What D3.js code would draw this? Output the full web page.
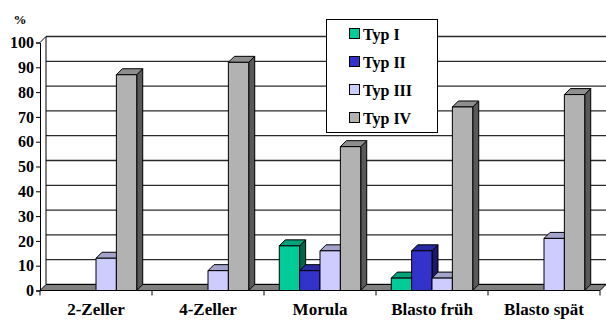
<!DOCTYPE html>
<html>
<head>
<meta charset="utf-8">
<script src="https://cdn.jsdelivr.net/npm/d3@7"></script>
<style>
  html, body { margin: 0; padding: 0; background: #fff; }
  svg text { font-family: "Liberation Serif", "DejaVu Serif", "Times New Roman", serif !important; font-weight: bold; fill: #000; }
</style>
</head>
<body>
<svg id="chart" width="606" height="320"></svg>
<script>
// Stages of embryo development and share (%) of each type
const categories = ["2-Zeller", "4-Zeller", "Morula", "Blasto früh", "Blasto spät"];
const seriesNames = ["Typ I", "Typ II", "Typ III", "Typ IV"];
const typI   = [0, 0, 18, 5, 0];
const typII  = [0, 0, 8, 16, 0];
const typIII = [13, 8, 16, 5, 21];
const typIV  = [87, 92, 58, 74, 79];
const seriesValues = [typI, typII, typIII, typIV];
const seriesColors = ["#00CC99", "#3333CC", "#CCCCFF", "#B2B2B2"];
const yTicks = [0, 10, 20, 30, 40, 50, 60, 70, 80, 90, 100];

const svg = d3.select("#chart");
const FONT = '"Liberation Serif", "DejaVu Serif", serif';

// oblique depth offset of the 3-D walls and columns
const DX = 6, DY = -6;

const x = d3.scaleBand().domain(categories).range([40, 600]).padding(0);
const bw = x.bandwidth() / 5.5;            // column width (gap = 150 %)
const xs = d3.scaleBand().domain(seriesNames)
  .range([0.75 * bw, x.bandwidth() - 0.75 * bw]).padding(0);
const y = d3.scaleLinear().domain([0, 100]).range([290.5, 42.5]);

const x0 = x.range()[0], x1 = x.range()[1];

// back wall gridlines
const grid = svg.append("g");
yTicks.forEach(t => {
  grid.append("line")
    .attr("x1", x0 + DX).attr("x2", x1 + DX)
    .attr("y1", y(t) + DY).attr("y2", y(t) + DY)
    .attr("stroke", "#2a2a2a").attr("stroke-width", 1.3);
});
// left side wall edges
grid.append("line").attr("x1", x0 + DX).attr("x2", x0 + DX)
  .attr("y1", y(100) + DY).attr("y2", y(0) + DY).attr("stroke", "#000");
grid.append("line").attr("x1", x0).attr("x2", x0 + DX)
  .attr("y1", y(100)).attr("y2", y(100) + DY).attr("stroke", "#000");

// floor
const floorPts = [[x0, y(0)], [x1, y(0)], [x1 + DX, y(0) + DY], [x0 + DX, y(0) + DY]];
svg.append("polygon")
  .attr("points", floorPts.map(p => p.join(",")).join(" "))
  .attr("fill", "#808080").attr("stroke", "#000").attr("stroke-width", 1);

// y axis
const yAxis = d3.axisLeft(y).tickValues(yTicks).tickSize(4).tickPadding(2);
const gy = svg.append("g").attr("transform", `translate(${x0},0)`).call(yAxis)
  .attr("font-family", FONT).attr("font-size", 16);
gy.select(".domain").attr("stroke", "#000");
gy.selectAll(".tick line").attr("stroke", "#000");
gy.selectAll(".tick text").attr("font-weight", "bold");

// x axis
const xAxis = d3.axisBottom(x).tickSize(0).tickPadding(12);
const gx = svg.append("g").attr("transform", `translate(0,${y(0)})`).call(xAxis)
  .attr("font-family", FONT).attr("font-size", 17);
gx.select(".domain").remove();
gx.selectAll(".tick text").attr("font-weight", "bold");
// category boundary ticks
const bounds = categories.map(c => x(c)).concat([x1]);
svg.append("g").selectAll("line").data(bounds).join("line")
  .attr("x1", d => d).attr("x2", d => d)
  .attr("y1", y(0)).attr("y2", y(0) + 5)
  .attr("stroke", "#000");

// 3-D columns
function shade(c, k) {
  const col = d3.rgb(c);
  return d3.rgb(col.r * k, col.g * k, col.b * k).formatHex();
}
const bars = svg.append("g");
categories.forEach((cat, ci) => {
  seriesNames.forEach((s, si) => {
    const v = seriesValues[si][ci];
    if (v <= 0) return;
    const left = x(cat) + xs(s), right = left + xs.bandwidth();
    const top = y(v), bot = y(0);
    const col = seriesColors[si];
    const g = bars.append("g").attr("stroke", "#000").attr("stroke-width", 1)
      .attr("stroke-linejoin", "round");
    // side face
    g.append("polygon").attr("fill", shade(col, 0.5))
      .attr("points", [[right, bot], [right + DX, bot + DY], [right + DX, top + DY], [right, top]]
        .map(p => p.join(",")).join(" "));
    // top face
    g.append("polygon").attr("fill", shade(col, 0.8))
      .attr("points", [[left, top], [right, top], [right + DX, top + DY], [left + DX, top + DY]]
        .map(p => p.join(",")).join(" "));
    // front face
    g.append("rect").attr("fill", col)
      .attr("x", left).attr("y", top).attr("width", right - left).attr("height", bot - top);
  });
});

// "%" unit label
svg.append("text").attr("x", 20).attr("y", 24).attr("text-anchor", "middle")
  .attr("font-family", FONT).attr("font-size", 13).text("%");

// legend
const lg = svg.append("g");
lg.append("rect").attr("x", 326.5).attr("y", 19.5).attr("width", 111).attr("height", 113)
  .attr("fill", "#fff").attr("stroke", "#000").attr("stroke-width", 1);
seriesNames.forEach((s, i) => {
  const cy = 34 + i * 28;
  lg.append("rect").attr("x", 349.5).attr("y", cy - 5.5).attr("width", 10).attr("height", 10)
    .attr("fill", seriesColors[i]).attr("stroke", "#000");
  lg.append("text").attr("x", 363).attr("y", cy).attr("dy", "0.35em")
    .attr("font-family", FONT).attr("font-size", 16).text(s);
});
</script>
</body>
</html>
